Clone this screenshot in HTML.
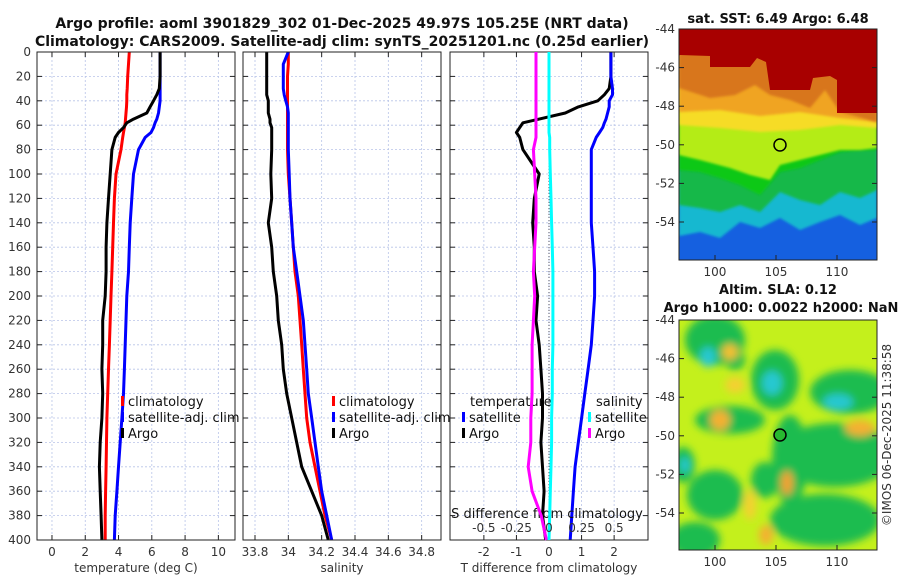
<!DOCTYPE html>
<html><head><meta charset="utf-8">
<style>
body{margin:0;background:#fff;}
svg{display:block;font-family:"DejaVu Sans","Liberation Sans",sans-serif;}
.tk{font-size:12px;fill:#333;}
.tt{font-size:14px;font-weight:bold;fill:#111;}
.tm{font-size:13px;font-weight:bold;fill:#111;}
.lg{font-size:13px;fill:#111;}
</style></head>
<body>
<svg id="fig" width="900" height="580" viewBox="0 0 900 580">
<defs>
<filter id="blur3"><feGaussianBlur stdDeviation="4"/></filter>
<filter id="blur1"><feGaussianBlur stdDeviation="1.2"/></filter>
<clipPath id="clipM1"><rect x="679" y="29" width="198" height="231"/></clipPath>
<clipPath id="clipM2"><rect x="679" y="320" width="198" height="230"/></clipPath>
</defs>
<text class="tt" x="342" y="28" text-anchor="middle">Argo profile: aoml 3901829_302 01-Dec-2025 49.97S 105.25E (NRT data)</text>
<text class="tt" x="342" y="46" text-anchor="middle">Climatology: CARS2009. Satellite-adj clim: synTS_20251201.nc (0.25d earlier)</text>
<g id="plots"></g>

<!-- SST map -->
<g clip-path="url(#clipM1)">
<rect x="679" y="29" width="198" height="231" fill="#1560e0"/>
<path d="M679,29H877V218L860,225L840,215L820,222L800,230L780,218L760,228L740,222L720,238L700,232L679,236Z" fill="#12b8d0" filter="url(#blur1)"/>
<path d="M679,29H877V190L860,198L840,192L820,205L800,200L780,192L760,212L740,205L720,212L700,208L679,205Z" fill="#18b848" filter="url(#blur1)"/>
<path d="M679,29H877V150L860,150L840,152L820,160L800,168L780,172L760,195L740,185L720,178L700,172L679,170Z" fill="#0cc818" filter="url(#blur1)"/>
<path d="M679,29H877V148L860,150L840,150L820,155L800,160L780,165L770,180L750,175L730,168L700,160L679,155Z" fill="#b4ec18" filter="url(#blur1)"/>
<path d="M679,29H877V128L840,125L800,130L760,132L720,128L679,125Z" fill="#f6dc28" filter="url(#blur1)"/>
<path d="M679,29H877V122L840,118L800,112L760,116L720,110L679,112Z" fill="#f0a420" filter="url(#blur1)"/>
<path d="M679,29H877V122L840,112L825,90L810,108L790,100L770,95L755,85L735,95L710,98L679,88Z" fill="#d8761a" filter="url(#blur1)"/>
<path d="M679,29H877V113H837V80L830,76L813,78L810,90H770L766,62L757,58L750,67H710V56L680,55L679,56Z" fill="#a80000"/>
</g>
<rect x="679" y="29" width="198" height="231" fill="none" stroke="#222" stroke-width="1"/>
<circle cx="780" cy="145" r="6" fill="none" stroke="#000" stroke-width="1.5"/>
<text class="tm" x="778" y="23" text-anchor="middle">sat. SST: 6.49 Argo: 6.48</text>

<!-- SLA map -->
<g clip-path="url(#clipM2)">
<rect x="679" y="320" width="198" height="230" fill="#c4f01c"/>
<g filter="url(#blur3)">
<ellipse cx="715" cy="340" rx="30" ry="25" fill="#1cbc50"/>
<ellipse cx="775" cy="380" rx="24" ry="30" fill="#1cbc50"/>
<ellipse cx="850" cy="392" rx="40" ry="22" fill="#1cbc50"/>
<ellipse cx="730" cy="420" rx="35" ry="14" fill="#1cbc50"/>
<ellipse cx="835" cy="455" rx="60" ry="32" fill="#1cbc50"/>
<ellipse cx="790" cy="460" rx="18" ry="45" fill="#1cbc50"/>
<ellipse cx="715" cy="495" rx="28" ry="25" fill="#1cbc50"/>
<ellipse cx="825" cy="520" rx="55" ry="26" fill="#1cbc50"/>
<ellipse cx="695" cy="540" rx="25" ry="18" fill="#1cbc50"/>
<ellipse cx="765" cy="480" rx="14" ry="18" fill="#1cbc50"/>
<ellipse cx="683" cy="465" rx="12" ry="18" fill="#1cbc50"/>
<ellipse cx="735" cy="360" rx="10" ry="10" fill="#1cbc50"/>
<ellipse cx="708" cy="357" rx="8" ry="10" fill="#28c8d0"/>
<ellipse cx="772" cy="383" rx="10" ry="12" fill="#28c8d0"/>
<ellipse cx="838" cy="402" rx="15" ry="8" fill="#28c8d0"/>
<ellipse cx="685" cy="465" rx="5" ry="8" fill="#28c8d0"/>
<ellipse cx="735" cy="385" rx="10" ry="8" fill="#f4d030"/>
<ellipse cx="720" cy="420" rx="10" ry="10" fill="#f4b030"/>
<ellipse cx="860" cy="428" rx="15" ry="8" fill="#f4b030"/>
<ellipse cx="787" cy="483" rx="6" ry="12" fill="#f4a030"/>
<ellipse cx="766" cy="535" rx="7" ry="10" fill="#f4b030"/>
<ellipse cx="750" cy="505" rx="6" ry="15" fill="#f4d030"/>
<ellipse cx="730" cy="352" rx="8" ry="8" fill="#f4c030"/>
</g>
</g>
<rect x="679" y="320" width="198" height="230" fill="none" stroke="#222" stroke-width="1"/>
<circle cx="780" cy="435" r="6" fill="#28b830" stroke="#000" stroke-width="1.5"/>
<text class="tm" x="778" y="294" text-anchor="middle">Altim. SLA: 0.12</text>
<text class="tm" x="781" y="312" text-anchor="middle">Argo h1000: 0.0022 h2000: NaN</text>
<text class="tk" transform="translate(891,435) rotate(-90)" text-anchor="middle">©IMOS 06-Dec-2025 11:38:58</text>
<g id="mapaxes"></g>
</svg>
<script>
var NS="http://www.w3.org/2000/svg";
// depth levels (m)
var depth=[0,10,20,30,35,40,45,50,55,58,62,66,70,80,100,120,140,160,180,200,220,240,260,280,300,320,340,360,380,400];
// temperature (deg C)
var tClim=[4.65,4.6,4.55,4.52,4.5,4.5,4.48,4.45,4.42,4.4,4.35,4.3,4.25,4.15,3.85,3.75,3.7,3.65,3.6,3.55,3.5,3.45,3.4,3.35,3.3,3.28,3.25,3.22,3.2,3.2];
var tSat=[6.5,6.5,6.5,6.5,6.5,6.5,6.45,6.4,6.3,6.2,6.1,5.95,5.6,5.2,4.9,4.8,4.7,4.65,4.6,4.5,4.45,4.4,4.35,4.3,4.2,4.1,4.0,3.9,3.8,3.75];
var tArgo=[6.5,6.5,6.5,6.45,6.3,6.1,5.9,5.7,4.9,4.5,4.3,4.0,3.8,3.6,3.5,3.4,3.3,3.25,3.25,3.2,3.05,3.05,3.0,3.05,3.0,2.9,2.85,2.9,2.95,3.0];
// salinity (psu)
var sClim=[34.0,34.0,33.995,33.995,33.995,33.995,33.995,33.995,33.995,33.995,33.995,33.995,33.995,33.995,34.0,34.01,34.02,34.03,34.04,34.06,34.07,34.08,34.09,34.1,34.11,34.13,34.16,34.19,34.22,34.26];
var sSat=[34.0,33.97,33.97,33.97,33.975,33.985,33.995,34.0,34.0,34.0,34.0,34.0,34.0,34.0,34.005,34.01,34.02,34.03,34.05,34.07,34.09,34.1,34.11,34.12,34.14,34.16,34.18,34.2,34.23,34.26];
var sArgo=[33.87,33.87,33.87,33.87,33.87,33.88,33.88,33.88,33.89,33.89,33.9,33.9,33.9,33.9,33.895,33.9,33.88,33.9,33.91,33.93,33.94,33.96,33.97,33.99,34.02,34.05,34.08,34.14,34.2,34.24];
// differences from climatology
var dTSat=[1.9,1.9,1.9,1.95,1.95,1.85,1.85,1.8,1.75,1.7,1.65,1.55,1.45,1.3,1.3,1.3,1.3,1.35,1.4,1.4,1.35,1.3,1.2,1.1,1.0,0.9,0.8,0.75,0.7,0.65];
var dTArgo=[1.9,1.9,1.9,1.85,1.7,1.5,0.9,0.5,-0.3,-0.8,-0.9,-1.0,-0.9,-0.8,-0.3,-0.45,-0.5,-0.45,-0.45,-0.35,-0.4,-0.3,-0.25,-0.2,-0.2,-0.25,-0.2,-0.15,-0.2,-0.1];
var dSSat=[0.0,0.0,0.0,0.0,0.0,0.0,0.0,0.0,0.0,0.0,0.0,0.0,0.005,0.005,0.01,0.015,0.02,0.025,0.03,0.03,0.03,0.03,0.025,0.025,0.02,0.02,0.015,0.01,0.005,0.0];
var dSArgo=[-0.1,-0.1,-0.1,-0.1,-0.1,-0.1,-0.1,-0.1,-0.1,-0.1,-0.1,-0.1,-0.1,-0.12,-0.11,-0.1,-0.1,-0.11,-0.12,-0.11,-0.12,-0.13,-0.13,-0.13,-0.14,-0.14,-0.16,-0.13,-0.06,-0.02];
// ticks
var depthTicks=[0,20,40,60,80,100,120,140,160,180,200,220,240,260,280,300,320,340,360,380,400];
var tTicks=[0,2,4,6,8,10];
var sTicks=[33.8,34,34.2,34.4,34.6,34.8];
var sTickLabels=["33.8","34","34.2","34.4","34.6","34.8"];
var dTTicks=[-2,-1,0,1,2];
var dSTicks=[-0.5,-0.25,0,0.25,0.5];
var dSTickLabels=["-0.5","-0.25","0","0.25","0.5"];
var latTicks=[-44,-46,-48,-50,-52,-54];
var lonTicks=[100,105,110];

var plots=document.getElementById('plots');
var top0=52,bot0=540;
function yD(d){return top0+(d-0)*(bot0-top0)/400;}
function mk(tag,at,par){var e=document.createElementNS(NS,tag);for(var k in at)e.setAttribute(k,at[k]);(par||plots).appendChild(e);return e;}
function panel(x0,x1,lo,hi,name){
  var sx=function(v){return x0+(v-lo)*(x1-x0)/(hi-lo);};
  var g=mk('g',{});
  
  
  return {g:g,sx:sx,x0:x0,x1:x1};
}
function grid(p,xt,dash){
  xt.forEach(function(v){var x=p.sx(v);
    var l=mk('line',{x1:x,x2:x,y1:top0,y2:bot0,stroke:'#b8c4e8','stroke-width':0.8,'stroke-dasharray':'2,2'},p.g);
    
    
    mk('line',{x1:x,x2:x,y1:top0,y2:top0+5,stroke:'#222'},p.g);
    mk('line',{x1:x,x2:x,y1:bot0,y2:bot0-5,stroke:'#222'},p.g);
  });
  depthTicks.forEach(function(d){var y=yD(d);
    var l=mk('line',{x1:p.x0,x2:p.x1,y1:y,y2:y,stroke:'#b8c4e8','stroke-width':0.8,'stroke-dasharray':'2,2'},p.g);
    
    
    mk('line',{x1:p.x0,x2:p.x0+5,y1:y,y2:y,stroke:'#222'},p.g);
    mk('line',{x1:p.x1,x2:p.x1-5,y1:y,y2:y,stroke:'#222'},p.g);
  });
}
function frame(p){var r=mk('rect',{x:p.x0,y:top0,width:p.x1-p.x0,height:bot0-top0,fill:'none',stroke:'#222','stroke-width':1},p.g);
  
  }
function line(p,vals,col,name){
  var pts=vals.map(function(v,i){return p.sx(v).toFixed(1)+','+yD(depth[i]).toFixed(1);}).join(' ');
  var l=mk('polyline',{points:pts,fill:'none',stroke:col,'stroke-width':3,'stroke-linejoin':'round'},p.g);
  
  
}
function txt(s,x,y,cls,anchor,par){var t=mk('text',{x:x,y:y,'class':cls,'text-anchor':anchor||'middle'},par);t.textContent=s;return t;}
function xlabels(p,ticks,labels,y){ticks.forEach(function(v,i){var t=txt(labels?labels[i]:String(v),p.sx(v),y,'tk','middle',p.g);
  
  });}
function legend(items,x,y0,par){items.forEach(function(it,i){var y=y0+i*16;
  var r=mk('rect',{x:x,y:y-10,width:3,height:10,fill:it[1]},par);
  
  
  var t=txt(it[0],x+7,y,'lg','start',par);
  
  });}

// Panel 1 temperature
var p1=panel(37,235,-0.9,11.0,'temperature-panel');
grid(p1,tTicks);
line(p1,tClim,'#ff0000','temp-climatology-line');
line(p1,tSat,'#0000ff','temp-satellite-line');
line(p1,tArgo,'#000000','temp-argo-line');
frame(p1);
xlabels(p1,tTicks,null,556);
var xt1=txt('temperature (deg C)',136,572,'tk','middle',p1.g);
depthTicks.forEach(function(d){var t=txt(String(d),31,yD(d)+4,'tk','end',p1.g);
  
  });
legend([['climatology','#ff0000'],['satellite-adj. clim','#0000ff'],['Argo','#000000']],121,406,p1.g);

// Panel 2 salinity
var p2=panel(243,441,33.728,34.916,'salinity-panel');
grid(p2,sTicks);
line(p2,sClim,'#ff0000','sal-climatology-line');
line(p2,sSat,'#0000ff','sal-satellite-line');
line(p2,sArgo,'#000000','sal-argo-line');
frame(p2);
xlabels(p2,sTicks,sTickLabels,556);
var xt2=txt('salinity',342,572,'tk','middle',p2.g);
legend([['climatology','#ff0000'],['satellite-adj. clim','#0000ff'],['Argo','#000000']],332,406,p2.g);

// Panel 3 differences
var p3=panel(450,648,-3.04,3.04,'difference-panel');
var p3s=panel(450,648,-0.76,0.76,'salinity-difference-scale');
grid(p3,dTTicks);
var z=mk('line',{x1:p3.sx(0),x2:p3.sx(0),y1:top0,y2:bot0,stroke:'#556','stroke-width':1,'stroke-dasharray':'1,2'},p3.g);


line(p3s,dSArgo,'#ff00ff','sal-argo-diff-line');
line(p3s,dSSat,'#00ffff','sal-satellite-diff-line');
line(p3,dTArgo,'#000000','temp-argo-diff-line');
line(p3,dTSat,'#0000ff','temp-satellite-diff-line');
frame(p3);
xlabels(p3,dTTicks,null,556);
var xt3=txt('T difference from climatology',549,572,'tk','middle',p3.g);
xlabels(p3s,dSTicks,dSTickLabels,532);
var xt4=txt('S difference from climatology',547,518,'lg','middle',p3.g);
var lt=txt('temperature',470,406,'lg','start',p3.g);
legend([['satellite','#0000ff'],['Argo','#000000']],462,422,p3.g);
var ls=txt('salinity',596,406,'lg','start',p3.g);
legend([['satellite','#00ffff'],['Argo','#ff00ff']],588,422,p3.g);

// Map axes
var ma=document.getElementById('mapaxes');
function mapAxes(yTop,yBot){
  var ly=function(lat){return yTop+(-44-lat)*19.3;};
  var lx=function(lon){return 679+(lon-97.05)*12.2;};
  latTicks.forEach(function(l){var y=ly(l);
    var t=txt(String(l),675,y+4,'tk','end',ma);
    
    
    mk('line',{x1:877,x2:872,y1:y,y2:y,stroke:'#222'},ma);
    mk('line',{x1:679,x2:684,y1:y,y2:y,stroke:'#222'},ma);});
  lonTicks.forEach(function(l){var x=lx(l);
    var t=txt(String(l),x,yBot+16,'tk','middle',ma);
    
    
    mk('line',{x1:x,x2:x,y1:yBot,y2:yBot-5,stroke:'#222'},ma);});
}
mapAxes(29,260);
mapAxes(320,550);
</script>
</body></html>
